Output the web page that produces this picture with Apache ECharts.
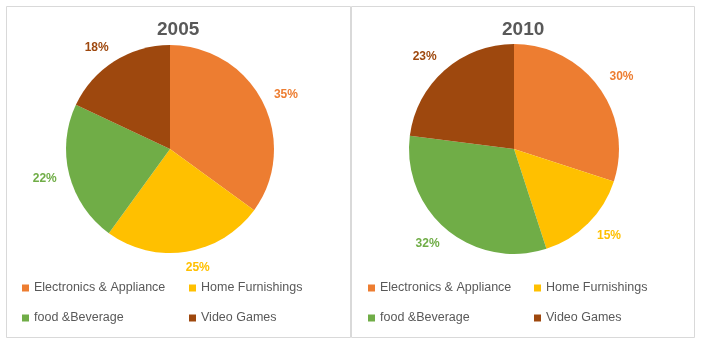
<!DOCTYPE html>
<html>
<head>
<meta charset="utf-8">
<script src="https://cdn.jsdelivr.net/npm/echarts@6/dist/echarts.min.js"></script>
<style>html,body{margin:0;padding:0;background:#fff}#c{width:702px;height:345px}</style>
</head>
<body>
<div id="c"></div>
<script>
var categories = ['Electronics & Appliance', 'Home Furnishings', 'food &Beverage', 'Video Games'];
var values2005 = [35, 25, 22, 18];
var values2010 = [30, 15, 32, 23];
var titles = ['2005', '2010'];
var colors = ['#ED7D31', '#FFC000', '#70AD47', '#9E480E'];

var FONT = '"Liberation Sans", Arial, sans-serif';

function pieData(vals) {
  return categories.map(function (c, i) {
    return { name: c, value: vals[i], itemStyle: { color: colors[i] }, label: { color: colors[i] } };
  });
}
function pie(vals, center, r, lineLen, dist) {
  return {
    type: 'pie', center: center, radius: [0, r], startAngle: 90, clockwise: true,
    avoidLabelOverlap: false, silent: true, emphasis: { disabled: true },
    itemStyle: { borderWidth: 0 },
    label: { show: true, position: 'outside', formatter: '{c}%', fontFamily: FONT, fontSize: 12, fontWeight: 'bold', distanceToLabelLine: dist, padding: [3, 0, 0, 0] },
    labelLine: { show: false, length: lineLen, length2: 0 },
    data: pieData(vals)
  };
}
function legendCol(left, names) {
  return {
    orient: 'vertical', left: left, top: 281, padding: 0, itemWidth: 7, itemHeight: 7, itemGap: 16,
    icon: 'rect', selectedMode: false,
    textStyle: { color: '#595959', fontFamily: FONT, fontSize: 12.5, lineHeight: 14, height: 14, padding: [0, 0, 0, 0] },
    data: names.map(function (n) { return { name: n, itemStyle: { color: colors[categories.indexOf(n)] } }; })
  };
}
function title(text, left) {
  return { text: text, left: left, top: 20, padding: 0, textStyle: { color: '#595959', fontFamily: FONT, fontSize: 19, fontWeight: 'bold' } };
}

var chart = echarts.init(document.getElementById('c'), null, { renderer: 'canvas' });
chart.setOption({
  animation: false,
  backgroundColor: '#fff',
  title: [title(titles[0], 157), title(titles[1], 502)],
  legend: [
    legendCol(22, [categories[0], categories[2]]),
    legendCol(189, [categories[1], categories[3]]),
    legendCol(368, [categories[0], categories[2]]),
    legendCol(534, [categories[1], categories[3]])
  ],
  graphic: [
    { type: 'rect', shape: { x: 6.5, y: 6.5, width: 344, height: 331 }, style: { fill: 'none', stroke: '#d9d9d9', lineWidth: 1 }, silent: true },
    { type: 'rect', shape: { x: 351.5, y: 6.5, width: 343, height: 331 }, style: { fill: 'none', stroke: '#d9d9d9', lineWidth: 1 }, silent: true }
  ],
  series: [
    pie(values2005, [170, 149], 104, 16, -3),
    pie(values2010, [514, 149], 105, 18, -4)
  ]
});
</script>
</body>
</html>
